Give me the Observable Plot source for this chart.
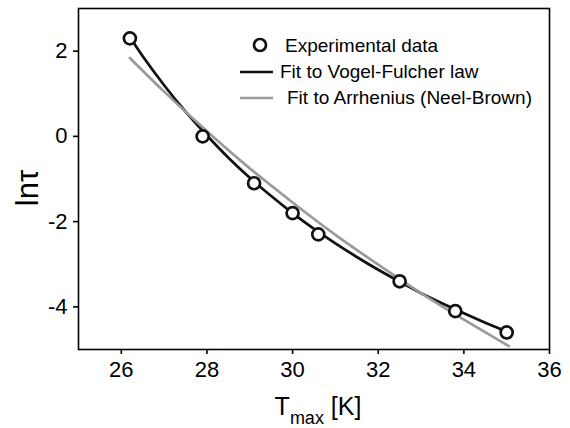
<!DOCTYPE html>
<html>
<head>
<meta charset="utf-8">
<script src="https://cdn.jsdelivr.net/npm/d3@7"></script>
<script src="https://cdn.jsdelivr.net/npm/@observablehq/plot@0.6"></script>
<style>
  html, body { margin: 0; padding: 0; background: #fff; }
  #chart { width: 570px; height: 428px; }
</style>
</head>
<body>
<div id="chart"></div>
<script>
// Experimental data
const expT = [26.2, 27.9, 29.1, 30.0, 30.6, 32.5, 33.8, 35.0];
const expLnTau = [2.3, 0.0, -1.1, -1.8, -2.3, -3.4, -4.1, -4.6];

// Vogel-Fulcher fit curve
const vfT = [26.2, 26.5, 27.0, 27.5, 28.0, 28.5, 29.0, 29.5, 30.0, 30.5, 31.0, 31.5, 32.0, 32.5, 33.0, 33.5, 34.0, 34.5, 35.0];
const vfLnTau = [2.33, 1.88, 1.2, 0.58, 0.02, -0.5, -0.97, -1.4, -1.8, -2.17, -2.51, -2.83, -3.13, -3.41, -3.68, -3.92, -4.15, -4.37, -4.58];

// Arrhenius (Neel-Brown) fit curve
const arT = [26.2, 27.0, 28.0, 29.0, 30.0, 31.0, 32.0, 33.0, 34.0, 35.05];
const arLnTau = [1.84, 1.05, 0.12, -0.75, -1.55, -2.31, -3.01, -3.68, -4.30, -4.92];

const xTicks = [26, 28, 30, 32, 34, 36];
const yTicks = [-4, -2, 0, 2];

const legendLabels = ["Experimental data", "Fit to Vogel-Fulcher law", "Fit to Arrhenius (Neel-Brown)"];

const exp = expT.map((t, i) => ({T: t, v: expLnTau[i]}));
const vf = vfT.map((t, i) => ({T: t, v: vfLnTau[i]}));
const ar = arT.map((t, i) => ({T: t, v: arLnTau[i]}));

const FONT = "'Liberation Sans', Arial, Helvetica, sans-serif";

const plot = Plot.plot({
  width: 570,
  height: 428,
  marginLeft: 78,
  marginRight: 21,
  marginTop: 8,
  marginBottom: 79,
  style: {fontFamily: FONT, fontSize: "22px", color: "black", background: "white"},
  x: {domain: [25, 36]},
  y: {domain: [-5, 3]},
  marks: [
    Plot.axisX({ticks: xTicks, tickSize: 5, tickPadding: 7, label: null, tickFormat: d => String(d), strokeWidth: 1.6}),
    Plot.axisY({ticks: yTicks, tickSize: 5, tickPadding: 6, label: null, tickFormat: d => String(d), strokeWidth: 1.6}),
    Plot.frame({stroke: "black", strokeWidth: 1.6}),
    Plot.line(vf, {x: "T", y: "v", stroke: "#111", strokeWidth: 2.7, curve: "natural"}),
    Plot.line(ar, {x: "T", y: "v", stroke: "#9a9a9a", strokeWidth: 2.7, curve: "natural"}),
    Plot.dot(exp, {x: "T", y: "v", r: 6, stroke: "#111", strokeWidth: 2.7, fill: "white"})
  ]
});

document.getElementById("chart").appendChild(plot);

const svg = d3.select(plot);

// Y axis label
svg.append("text")
  .attr("transform", "translate(38,188) rotate(-90)")
  .attr("text-anchor", "middle")
  .attr("font-family", FONT)
  .attr("font-size", 31)
  .attr("fill", "black")
  .text("lnτ");

// X axis label with subscript
const xl = svg.append("text")
  .attr("x", 318)
  .attr("y", 415)
  .attr("text-anchor", "middle")
  .attr("font-family", FONT)
  .attr("font-size", 25)
  .attr("fill", "black");
xl.append("tspan").text("T");
xl.append("tspan").attr("font-size", 18).attr("dy", 9).text("max");
xl.append("tspan").attr("dy", -9).text(" [K]");

// Legend
const lg = svg.append("g").attr("font-family", FONT).attr("font-size", 19).attr("fill", "black").attr("text-anchor", "start");
lg.append("circle").attr("cx", 260).attr("cy", 45).attr("r", 6).attr("fill", "white").attr("stroke", "#111").attr("stroke-width", 2.7);
lg.append("text").attr("x", 285).attr("y", 52).text(legendLabels[0]);
lg.append("line").attr("x1", 240).attr("x2", 273).attr("y1", 72).attr("y2", 72).attr("stroke", "#111").attr("stroke-width", 2.7);
lg.append("text").attr("x", 280).attr("y", 78).text(legendLabels[1]);
lg.append("line").attr("x1", 240).attr("x2", 273).attr("y1", 98).attr("y2", 98).attr("stroke", "#9a9a9a").attr("stroke-width", 2.7);
lg.append("text").attr("x", 287).attr("y", 104).text(legendLabels[2]);
</script>
</body>
</html>
